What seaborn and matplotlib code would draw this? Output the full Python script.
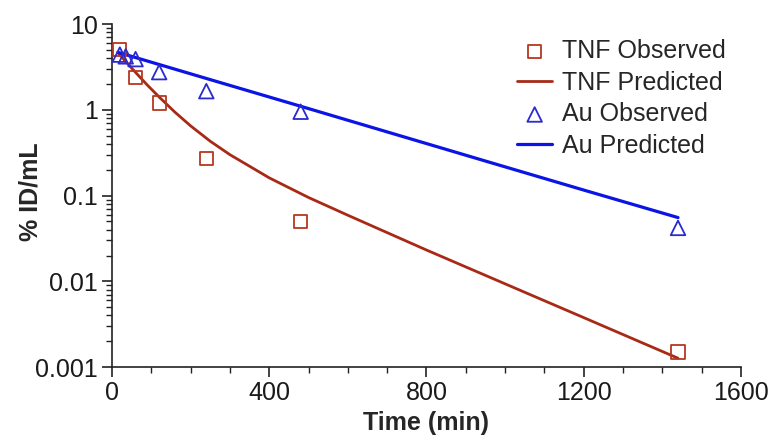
import numpy as np
import pandas as pd
import matplotlib
matplotlib.use("Agg")
import matplotlib.pyplot as plt
import matplotlib.ticker as mticker
import seaborn as sns

# observed points
tnf_time = [20, 60, 120, 240, 480, 1440]
tnf_obs = [5.0, 2.4, 1.2, 0.27, 0.05, 0.0015]

au_time = [20, 35, 60, 120, 240, 480, 1440]
au_obs = [4.4, 4.2, 3.9, 2.75, 1.65, 0.95, 0.042]

# predicted curves
tnf_pred_time = [15, 30, 45, 60, 75, 90, 120, 160, 200, 250, 300, 400, 500, 600, 800, 1000, 1200, 1440]
tnf_pred = [4.64, 3.87, 3.25, 2.73, 2.30, 1.94, 1.41, 0.94, 0.65, 0.43, 0.30, 0.161, 0.095, 0.059,
            0.0232, 0.00936, 0.00378, 0.00127]

au_pred_time = [15, 240, 480, 720, 960, 1200, 1440]
au_pred = [4.68, 2.32, 1.10, 0.519, 0.245, 0.116, 0.0554]

tnf_color = "#b4381f"
tnf_line = "#a82a16"
au_color = "#2a2ad0"
au_line = "#0a14e6"

sns.set_style("ticks")
plt.rcParams["font.family"] = ["Liberation Sans", "DejaVu Sans"]

fig = plt.figure(figsize=(7.75, 4.45), dpi=100)
ax = fig.add_axes([0.1445, 0.175, 0.8115, 0.771])

sns.scatterplot(x=tnf_time, y=tnf_obs, ax=ax, marker="s", s=90,
                facecolor="none", edgecolor=tnf_color, linewidth=1.3,
                label="TNF Observed", zorder=3)
sns.lineplot(x=tnf_pred_time, y=tnf_pred, ax=ax, color=tnf_line, linewidth=2.0,
             label="TNF Predicted")
sns.scatterplot(x=au_time, y=au_obs, ax=ax, marker="^", s=110,
                facecolor="none", edgecolor=au_color, linewidth=1.3,
                label="Au Observed", zorder=3)
sns.lineplot(x=au_pred_time, y=au_pred, ax=ax, color=au_line, linewidth=2.3,
             label="Au Predicted")

ax.set_yscale("log")
ax.set_xlim(0, 1600)
ax.set_ylim(0.001, 10)
ax.xaxis.set_major_locator(mticker.MultipleLocator(400))
ax.xaxis.set_minor_locator(mticker.MultipleLocator(100))
ax.yaxis.set_major_locator(mticker.LogLocator(base=10, numticks=10))
ax.yaxis.set_minor_locator(mticker.LogLocator(base=10, subs=np.arange(2, 10), numticks=20))
ax.yaxis.set_major_formatter(mticker.FuncFormatter(lambda v, p: "{:g}".format(v)))
ax.yaxis.set_minor_formatter(mticker.NullFormatter())

sns.despine(ax=ax)
for s in ["left", "bottom"]:
    ax.spines[s].set_linewidth(1.2)
    ax.spines[s].set_color("#222222")
ax.tick_params(which="major", length=7, width=1.2, labelsize=18, colors="#222222", pad=3)
ax.tick_params(which="minor", length=4.5, width=1.0, colors="#222222")
ax.tick_params(labelcolor="#1a1a1a")

ax.set_xlabel("Time (min)", fontsize=18, fontweight="bold", labelpad=4)
ax.set_ylabel("% ID/mL", fontsize=18, fontweight="bold")
ax.yaxis.set_label_coords(-0.11, 0.51)

handles, labels = ax.get_legend_handles_labels()
ax.legend(handles, labels, loc="upper right", bbox_to_anchor=(1.0, 1.0),
          frameon=False, fontsize=18, handlelength=1.4, handletextpad=0.4,
          labelspacing=0.3, borderaxespad=0.2)

fig.savefig("out.png", dpi=100)
